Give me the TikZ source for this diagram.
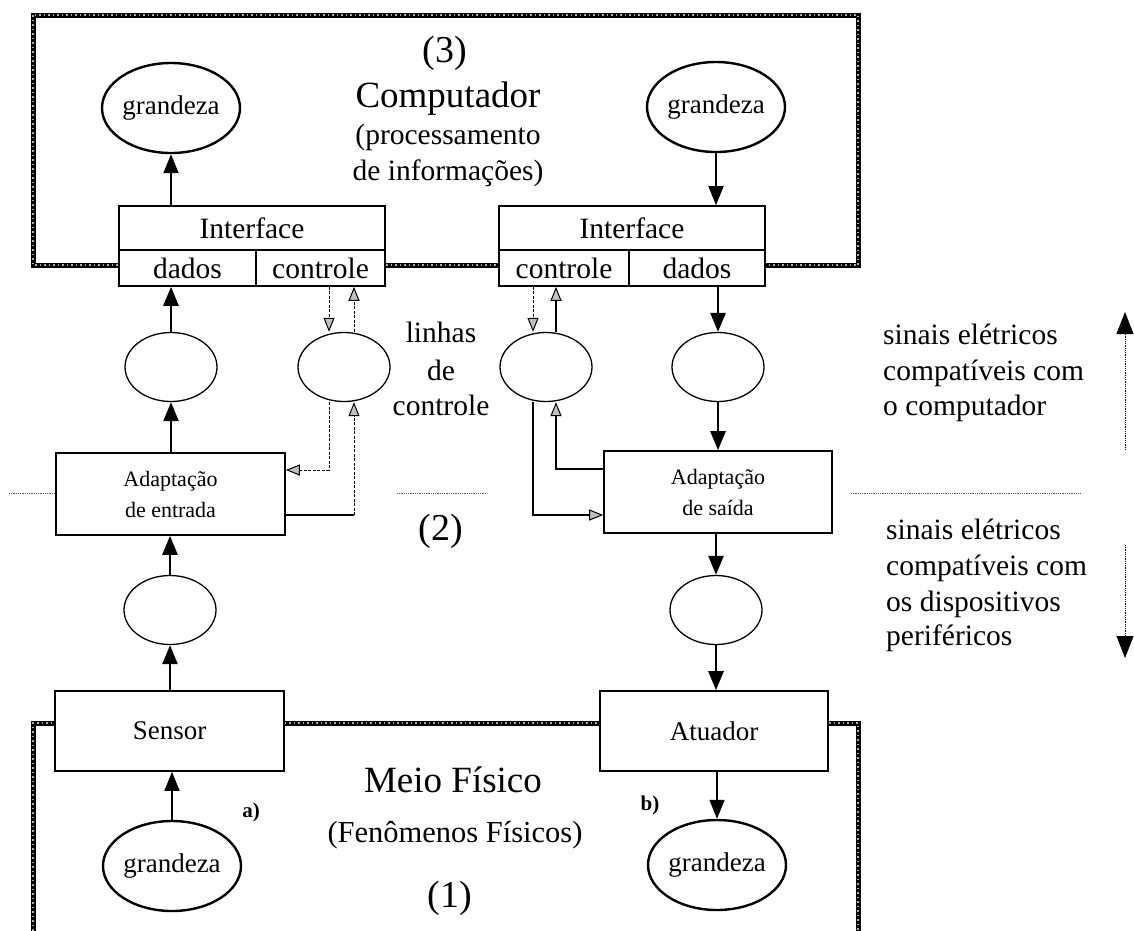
\documentclass[tikz,border=0pt]{standalone}
\usepackage{fontspec}
\setmainfont{Liberation Serif}
\usetikzlibrary{arrows.meta,shapes.geometric}
\newcommand{\setfs}[1]{\fontsize{#1}{#1}\selectfont}

\begin{document}
\begin{tikzpicture}[x=1pt,y=-1pt,
  bord/.style={line width=5pt},
  bordgrain/.style={line width=1.2pt, gray!65, dash pattern=on 1.5pt off 3pt},
  box/.style={draw, line width=1.6pt, inner sep=0pt, fill=white},
  oval/.style={draw, ellipse, line width=1.3pt, minimum width=92pt, minimum height=69pt, inner sep=0pt},
  gnode/.style={draw, ellipse, line width=2.4pt, minimum width=138pt, minimum height=90pt, inner sep=0pt, font=\setfs{27}},
  lbl/.style={inner sep=0pt, text height=0.68em, text depth=0.2em},
  thick arrow/.style={line width=2.6pt, -{Triangle[width=15pt,length=19pt]}},
  thin arrow/.style={line width=1.5pt, -{Triangle[width=15pt,length=19pt]}},
  gtip/.style={-{Triangle[width=11pt,length=14pt,fill=gray!50,line width=1pt]}},
  ctl/.style={line width=1pt, dash pattern=on 3pt off 1.5pt},
  sol/.style={line width=1.2pt},
  sepline/.style={line width=0.8pt, gray!70!black, dash pattern=on 1pt off 0.8pt},
  sidearrow/.style={line width=0.8pt, dash pattern=on 1pt off 0.8pt, -{Triangle[width=17pt,length=22pt]}}
]
\useasboundingbox (0,0) rectangle (1134,930);

% frames of the computer (top) and of the physical medium (bottom)
\draw[bord] (33,15) rectangle (858,265);
\draw[bordgrain] (33,15) rectangle (858,265);
\draw[bord] (33,935) -- (33,723) -- (858,723) -- (858,935);
\draw[bordgrain] (33,935) -- (33,723) -- (858,723) -- (858,935);

% separators between signal levels
\coordinate (s1) at (9,493);
\coordinate (s2) at (397,493);
\coordinate (s3) at (487,493);
\coordinate (s4) at (851,493);
\coordinate (s5) at (1080,493);
\draw[sepline] (s1) -- (56,493);
\draw[sepline] (s2) -- (s3);
\draw[sepline] (s4) -- (s5);

% interfaces
\node[box, minimum width=266pt, minimum height=44pt, font=\setfs{29.5}] (iL) at (252,228) {Interface};
\node[box, minimum width=137pt, minimum height=36pt, font=\setfs{29.5}] (dL) at (187.5,268) {dados};
\node[box, minimum width=129pt, minimum height=36pt, font=\setfs{29.5}] (cL) at (320.5,268) {controle};
\node[box, minimum width=266pt, minimum height=44pt, font=\setfs{29.5}] (iR) at (632,228) {Interface};
\node[box, minimum width=130pt, minimum height=36pt, font=\setfs{29.5}] (cR) at (564,268) {controle};
\node[box, minimum width=136pt, minimum height=36pt, font=\setfs{29.5}] (dR) at (697,268) {dados};

% quantities
\node[gnode] (g1) at (171,108) {grandeza};
\node[gnode] (g2) at (716,107) {grandeza};
\node[gnode] (g3) at (172,866) {grandeza};
\node[gnode] (g4) at (717,865) {grandeza};

% signal ovals
\node[oval] (e1) at (171,367) {};
\node[oval] (e2) at (344,367) {};
\node[oval] (e3) at (546,367) {};
\node[oval] (e4) at (718,367) {};
\node[oval] (e5) at (170,610) {};
\node[oval] (e6) at (716,610) {};

% adaptation, sensor and actuator blocks
\node[box, minimum width=229pt, minimum height=82pt, align=center, font=\setfs{22}] (ae) at (170.5,494) {Adaptação\\[9pt]de entrada};
\node[box, minimum width=228pt, minimum height=82pt, align=center, font=\setfs{22}] (as) at (718,492) {Adaptação\\[9pt]de saída};
\node[box, minimum width=229pt, minimum height=80pt, font=\setfs{27}] (sensor) at (169.5,731) {Sensor};
\node[box, minimum width=228pt, minimum height=80pt, font=\setfs{27}] (atuador) at (714,731) {Atuador};

% data path, input side
\draw[thin arrow] (g1 |- iL.north) -- (g1.south);
\draw[thick arrow] (e1.north) -- (e1 |- dL.south);
\draw[thick arrow] (e1 |- ae.north) -- (e1.south);
\draw[thick arrow] (e5.north) -- (e5 |- ae.south);
\draw[thick arrow] (e5 |- sensor.north) -- (e5.south);
\draw[thin arrow] (g3.north) -- (g3 |- sensor.south);

% data path, output side
\draw[thin arrow] (g2.south) -- (g2 |- iR.north);
\draw[thick arrow] (e4 |- dR.south) -- (e4.north);
\draw[thick arrow] (e4.south) -- (e4 |- as.north);
\draw[thick arrow] (e6 |- as.south) -- (e6.north);
\draw[thick arrow] (e6.south) -- (e6 |- atuador.north);
\draw[thin arrow] (g4 |- atuador.south) -- (g4.north);

% control lines, input side
\coordinate (xa) at (329,0);
\coordinate (xb) at (354,0);
\coordinate (ya) at (0,470);
\coordinate (yb) at (0,515);
\draw[ctl,gtip] (xa |- cL.south) -- (xa |- e2.north);
\draw[ctl,gtip] (xb |- e2.north) -- (xb |- cL.south);
\draw[ctl,gtip] (xa |- e2.south) |- (ae.east |- ya);
\draw[sol] (ae.east |- yb) -- (xb |- yb);
\draw[ctl,gtip] (xb |- yb) -- (xb |- e2.south);

% control lines, output side
\coordinate (xc) at (533,0);
\coordinate (xd) at (556,0);
\coordinate (yc) at (0,469);
\coordinate (yd) at (0,515);
\draw[ctl,gtip] (xc |- cR.south) -- (xc |- e3.north);
\draw[sol,gtip] (xd |- e3.north) -- (xd |- cR.south);
\draw[sol,gtip] (xc |- e3.south) |- (as.west |- yd);
\draw[sol,gtip] (as.west |- yc) -| (xd |- e3.south);

% direction of the signals
\coordinate (ua) at (1125,450);
\coordinate (ub) at (1125,312);
\coordinate (da) at (1125,545);
\coordinate (db) at (1125,658);
\draw[sidearrow] (ua) -- (ub);
\draw[sidearrow] (da) -- (db);

% labels
\node[lbl, font=\setfs{38}] (n3) at (445,60) {(3)};
\node[lbl, font=\setfs{37}] (comp) at (448,105) {Computador};
\node[lbl, font=\setfs{29.5}] (proc1) at (448,142) {(processamento};
\node[lbl, font=\setfs{29.5}] (proc2) at (448,178) {de informações)};

\node[lbl, font=\setfs{29.5}] (lin1) at (441,340) {linhas};
\node[lbl, font=\setfs{29.5}] (lin2) at (441,378) {de};
\node[lbl, font=\setfs{29.5}] (lin3) at (441,413) {controle};
\node[lbl, font=\setfs{38}] (n2) at (441,538) {(2)};

\node[lbl, font=\setfs{29.5}, anchor=west] (sa1) at (883,342) {sinais elétricos};
\node[lbl, font=\setfs{29.5}, anchor=west] (sa2) at (883,378) {compatíveis com};
\node[lbl, font=\setfs{29.5}, anchor=west] (sa3) at (883,413) {o computador};
\node[lbl, font=\setfs{29.5}, anchor=west] (sb1) at (886,537) {sinais elétricos};
\node[lbl, font=\setfs{29.5}, anchor=west] (sb2) at (886,573) {compatíveis com};
\node[lbl, font=\setfs{29.5}, anchor=west] (sb3) at (886,609) {os dispositivos};
\node[lbl, font=\setfs{29.5}, anchor=west] (sb4) at (886,643) {periféricos};

\node[lbl, font=\setfs{37}] (meio) at (453,790) {Meio Físico};
\node[lbl, font=\setfs{30.5}] (fen) at (455,840) {(Fenômenos Físicos)};
\node[lbl, font=\setfs{38}] (n1) at (450,905) {(1)};

\node[lbl, font=\setfs{21}\bfseries] (la) at (251,815) {a)};
\node[lbl, font=\setfs{21}\bfseries] (lb) at (650,808) {b)};
\end{tikzpicture}
\end{document}
